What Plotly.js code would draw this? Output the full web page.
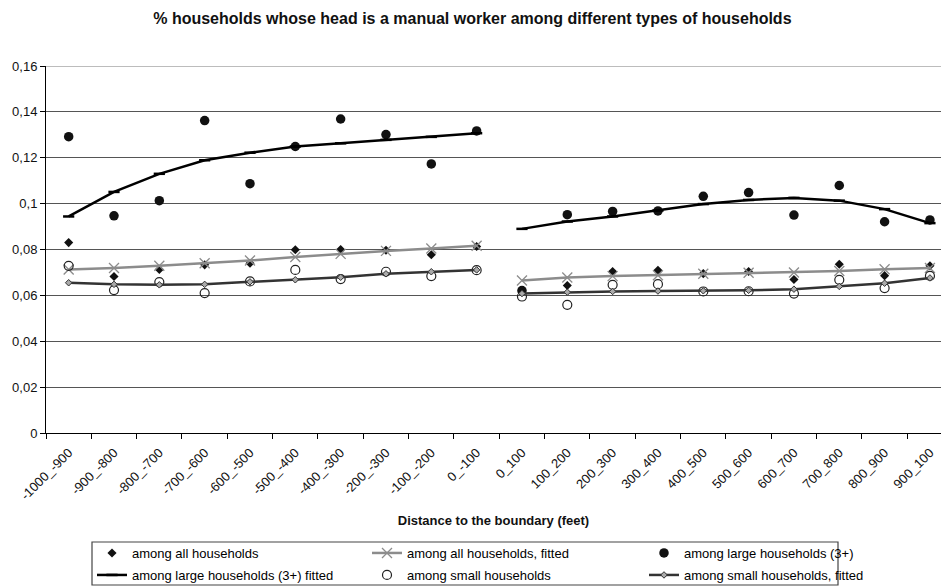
<!DOCTYPE html>
<html>
<head>
<meta charset="utf-8">
<script src="https://cdn.plot.ly/plotly-3.0.1.min.js"></script>
<style>
  html, body { margin: 0; padding: 0; background: #fff; }
  #chart { width: 941px; height: 587px; }
</style>
</head>
<body>
<div id="chart"></div>
<script>
// Distance bands on each side of the boundary (feet)
const leftCats = ['-1000_-900', '-900_-800', '-800_-700', '-700_-600', '-600_-500',
                  '-500_-400', '-400_-300', '-200_-300', '-100_-200', '0_-100'];
const rightCats = ['0_100', '100_200', '200_300', '300_400', '400_500',
                   '500_600', '600_700', '700_800', '800_900', '900_100'];

// Share of households with a manual-worker head, observed and fitted
const allLeft        = [0.0830, 0.0682, 0.0713, 0.0733, 0.0740, 0.0799, 0.0800, 0.0797, 0.0777, 0.0813];
const allRight       = [0.0615, 0.0643, 0.0704, 0.0709, 0.0695, 0.0704, 0.0669, 0.0736, 0.0686, 0.0729];
const allFitLeft     = [0.0713, 0.0719, 0.0729, 0.0740, 0.0752, 0.0767, 0.0781, 0.0794, 0.0804, 0.0816];
const allFitRight    = [0.0665, 0.0678, 0.0684, 0.0688, 0.0694, 0.0699, 0.0700, 0.0706, 0.0714, 0.0719];
const largeLeft      = [0.1292, 0.0947, 0.1013, 0.1362, 0.1087, 0.1249, 0.1369, 0.1301, 0.1173, 0.1317];
const largeRight     = [0.0621, 0.0952, 0.0966, 0.0968, 0.1032, 0.1048, 0.0950, 0.1079, 0.0921, 0.0929];
const largeFitLeft   = [0.0944, 0.1051, 0.1130, 0.1189, 0.1222, 0.1249, 0.1263, 0.1278, 0.1291, 0.1307];
const largeFitRight  = [0.0890, 0.0922, 0.0944, 0.0970, 0.0998, 0.1016, 0.1025, 0.1013, 0.0976, 0.0915];
const smallLeft      = [0.0729, 0.0623, 0.0658, 0.0610, 0.0661, 0.0711, 0.0671, 0.0703, 0.0684, 0.0710];
const smallRight     = [0.0595, 0.0559, 0.0646, 0.0649, 0.0617, 0.0618, 0.0608, 0.0668, 0.0632, 0.0685];
const smallFitLeft   = [0.0655, 0.0648, 0.0646, 0.0648, 0.0659, 0.0668, 0.0679, 0.0694, 0.0703, 0.0711];
const smallFitRight  = [0.0608, 0.0614, 0.0617, 0.0619, 0.0620, 0.0622, 0.0627, 0.0639, 0.0653, 0.0676];

const yTicks = [0, 0.02, 0.04, 0.06, 0.08, 0.1, 0.12, 0.14, 0.16];

const FONT = 'Liberation Sans, Arial, Helvetica, sans-serif';
const allCats = leftCats.concat(rightCats);
// fitted curves are split in two pieces: a null between the sides breaks the line
const splitX = leftCats.concat([null], rightCats);
const split = (a, b) => a.concat([null], b);

const traces = [
  {
    name: 'among all households', legend: 'legend',
    x: allCats, y: allLeft.concat(allRight), type: 'scatter', mode: 'markers',
    marker: { symbol: 'diamond', size: 7, color: '#111' }
  },
  {
    name: 'among all households, fitted', legend: 'legend2',
    x: splitX, y: split(allFitLeft, allFitRight), type: 'scatter', mode: 'lines+markers',
    line: { color: '#8c8c8c', width: 2.5 },
    marker: { symbol: 'x-thin', size: 10, color: '#8c8c8c', line: { color: '#8c8c8c', width: 1.3 } },
    connectgaps: false
  },
  {
    name: 'among large households (3+)', legend: 'legend3',
    x: allCats, y: largeLeft.concat(largeRight), type: 'scatter', mode: 'markers',
    marker: { symbol: 'circle', size: 9.5, color: '#111' }
  },
  {
    name: 'among large households (3+) fitted', legend: 'legend4',
    x: splitX, y: split(largeFitLeft, largeFitRight), type: 'scatter', mode: 'lines+markers',
    line: { color: '#000', width: 2.5 },
    marker: { symbol: 'line-ew', size: 8, color: '#000', line: { color: '#000', width: 2.5 } },
    connectgaps: false
  },
  {
    name: 'among small households', legend: 'legend5',
    x: allCats, y: smallLeft.concat(smallRight), type: 'scatter', mode: 'markers',
    marker: { symbol: 'circle-open', size: 9, color: '#222', line: { color: '#222', width: 1.2 } }
  },
  {
    name: 'among small households, fitted', legend: 'legend6',
    x: splitX, y: split(smallFitLeft, smallFitRight), type: 'scatter', mode: 'lines+markers',
    line: { color: '#333', width: 2.5 },
    marker: { symbol: 'diamond', size: 5, color: '#aaa', line: { color: '#333', width: 1 } },
    connectgaps: false
  }
];

// plot area geometry used to place the legend cells below the axis
const W = 941, H = 587, ML = 46, MT = 66, MB = 154;
const PW = W - ML, PH = H - MT - MB;
const px = v => (v - ML) / PW;
const py = v => (H - MB - v) / PH;

function legendCell(textX, rowY) {
  return {
    x: px(textX - 42), y: py(rowY), xanchor: 'left', yanchor: 'middle',
    orientation: 'v', bgcolor: 'rgba(0,0,0,0)', borderwidth: 0,
    font: { family: FONT, size: 13, color: '#000' }
  };
}

const layout = {
  width: W, height: H,
  margin: { l: ML, r: 0, t: MT, b: MB, autoexpand: false },
  paper_bgcolor: '#fff', plot_bgcolor: '#fff',
  separators: ', ',
  font: { family: FONT, size: 13, color: '#000' },
  title: {
    text: '<b>% households whose head is a manual worker among different types of households</b>',
    font: { family: FONT, size: 16, color: '#111' },
    x: 0.502, xanchor: 'center', y: 1 - 18 / H, yanchor: 'middle', yref: 'container'
  },
  xaxis: {
    type: 'category', categoryorder: 'array', categoryarray: allCats,
    range: [-0.5, -0.5 + PW / 45.33],
    tickson: 'boundaries', ticks: 'outside', ticklen: 5, tickcolor: '#000',
    tickangle: -45, ticklabelstandoff: 6,
    tickfont: { family: FONT, size: 13, color: '#111' },
    showline: true, linecolor: '#000', linewidth: 1,
    showgrid: false, zeroline: false,
    title: {
      text: '<b>Distance to the boundary (feet)</b>',
      font: { family: FONT, size: 13, color: '#111' },
      standoff: 14
    }
  },
  yaxis: {
    range: [0, 0.16], tickvals: yTicks,
    ticks: 'outside', ticklen: 5, tickcolor: '#000',
    tickfont: { family: FONT, size: 13, color: '#111' },
    showline: true, linecolor: '#000', linewidth: 1,
    showgrid: true, gridcolor: '#555', gridwidth: 1,
    zeroline: false
  },
  showlegend: true,
  legend:  legendCell(134, 553),
  legend2: legendCell(409, 553),
  legend3: legendCell(686, 553),
  legend4: legendCell(134, 575),
  legend5: legendCell(409, 575),
  legend6: legendCell(686, 575),
  shapes: [
    // lighter rule along the top edge of the plot area
    {
      type: 'line', xref: 'paper', yref: 'y', x0: 0, x1: 1, y0: 0.16, y1: 0.16,
      line: { color: '#a6a6a6', width: 1.5 }, layer: 'above'
    },
    // frame around the legend
    {
      type: 'rect', xref: 'paper', yref: 'paper',
      x0: px(92), x1: px(838), y0: py(585), y1: py(542),
      line: { color: '#444', width: 1.2 }, fillcolor: 'rgba(0,0,0,0)'
    }
  ]
};

Plotly.newPlot('chart', traces, layout, { staticPlot: true, displayModeBar: false });
</script>
</body>
</html>
